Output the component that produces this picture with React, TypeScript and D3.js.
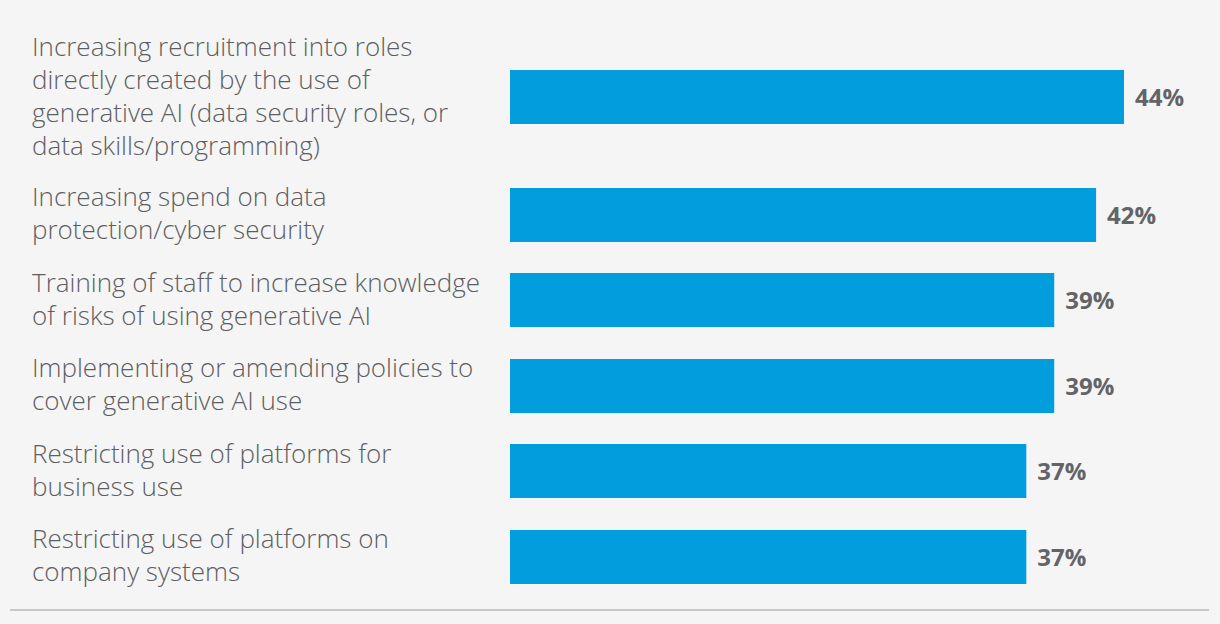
import React from "react";
import * as d3 from "d3";

const categories: string[][] = [
  ["Increasing recruitment into roles", "directly created by the use of", "generative AI (data security roles, or", "data skills/programming)"],
  ["Increasing spend on data", "protection/cyber security"],
  ["Training of staff to increase knowledge", "of risks of using generative AI"],
  ["Implementing or amending policies to", "cover generative AI use"],
  ["Restricting use of platforms for", "business use"],
  ["Restricting use of platforms on", "company systems"],
];
const values: number[] = [44, 42, 39, 39, 37, 37];

const W = 1220;
const H = 624;
const BG = "#f5f5f5";
const BAR = "#019ddd";
const LABEL = "#5d5e62";
const VALUE = "#636468";

export default function App() {
  const x = d3.scaleLinear().domain([0, 44]).range([510, 1124]);
  const rowH = categories.map((c) => 85.5 + (c.length - 2) * 32.25);
  const starts = [0, ...Array.from(d3.cumsum(rowH))].slice(0, rowH.length);
  const y0 = 22;
  const barH = 54;
  const lineH = 33;
  const fontSize = 26;

  return (
    <svg
      width={W}
      height={H}
      style={{ position: "absolute", left: 0, top: 0, display: "block" }}
    >
      <rect x={0} y={0} width={W} height={H} fill={BG} />
      {categories.map((lines, i) => {
        const cy = y0 + starts[i] + rowH[i] / 2;
        const firstBase = cy - ((lines.length - 1) * lineH) / 2 + 8;
        return (
          <g key={i}>
            <text
              x={32}
              fontFamily="'Open Sans', sans-serif"
              fontWeight={300}
              fontSize={fontSize}
              fill={LABEL}
            >
              {lines.map((l, j) => (
                <tspan key={j} x={32} y={firstBase + j * lineH}>
                  {l}
                </tspan>
              ))}
            </text>
            <rect
              x={x(0)}
              y={Math.round(cy - barH / 2)}
              width={x(values[i]) - x(0)}
              height={barH}
              fill={BAR}
            />
            <text
              x={x(values[i]) + 11}
              y={cy + 9}
              fontFamily="'Open Sans', sans-serif"
              fontWeight={700}
              fontSize={24}
              fill={VALUE}
            >
              {values[i]}%
            </text>
          </g>
        );
      })}
      <line x1={10} x2={1209} y1={610} y2={610} stroke="#c8c8c8" strokeWidth={2} />
    </svg>
  );
}
